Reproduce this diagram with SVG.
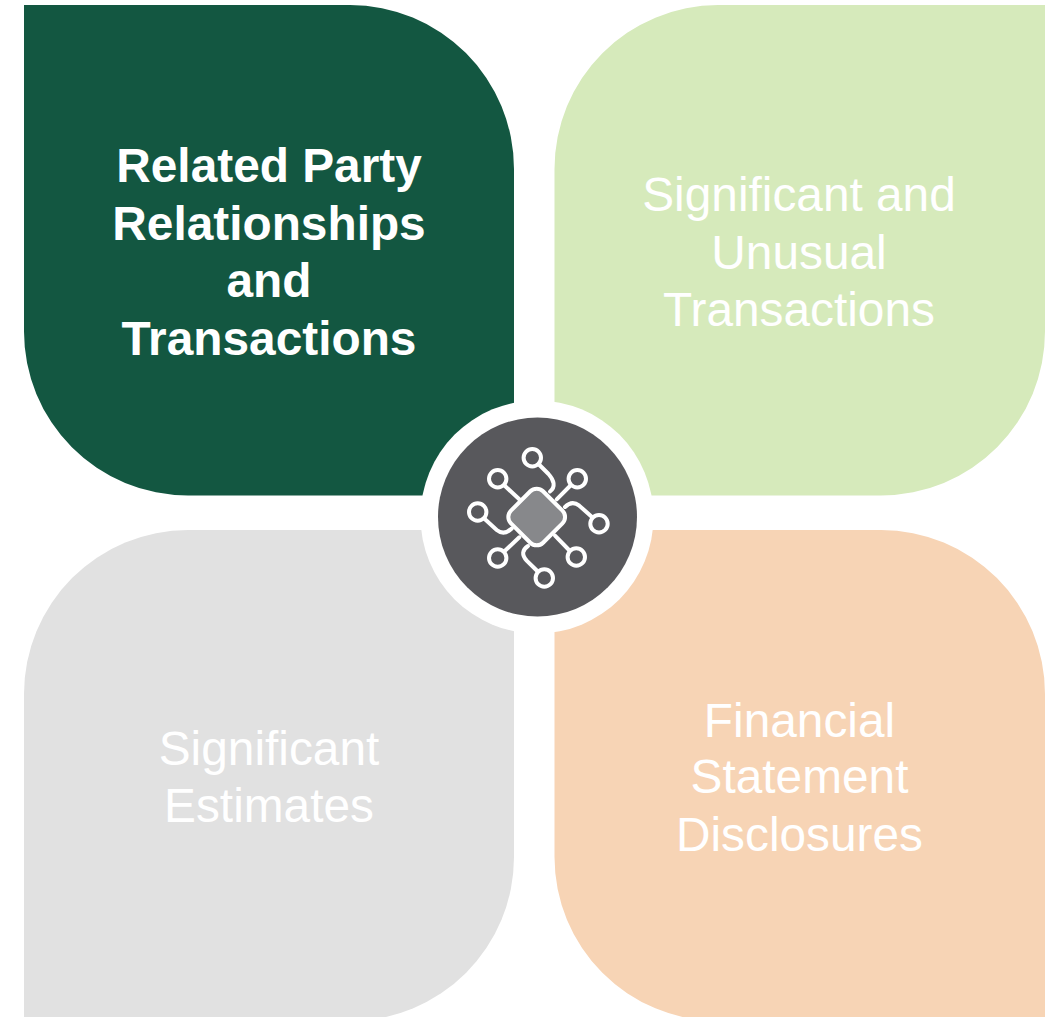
<svg xmlns="http://www.w3.org/2000/svg" width="1048" height="1017" viewBox="0 0 1048 1017">
<style>
text{font-family:"Liberation Sans",Arial,sans-serif;font-size:47.800px;fill:#fff;text-anchor:middle}
.b{font-weight:700}
.ic{fill:none;stroke:#fff;stroke-width:4;stroke-linecap:round}
</style>
<rect width="1048" height="1017" fill="#fff"/>
<g id="node-related">
<path d="M24 5H350A164 164 0 0 1 514 169V495.500H188A164 164 0 0 1 24 331Z" fill="#135741"/>
<text class="b" x="269" y="182">Related Party</text>
<text class="b" x="269" y="240">Relationships</text>
<text class="b" x="269" y="297">and</text>
<text class="b" x="269" y="355">Transactions</text>
</g>
<g id="node-unusual">
<path d="M718 5H1045V331A164 164 0 0 1 881 495.500H554.500V169A164 164 0 0 1 718 5Z" fill="#d6eabb"/>
<text x="799" y="210.500">Significant and</text>
<text x="799" y="268.500">Unusual</text>
<text x="799" y="326">Transactions</text>
</g>
<g id="node-estimates">
<path d="M188 530H514V857A164 164 0 0 1 350 1021H24V694A164 164 0 0 1 188 530Z" fill="#e1e1e1"/>
<text x="269" y="765">Significant</text>
<text x="269" y="822">Estimates</text>
</g>
<g id="node-disclosures">
<path d="M554.500 530H881A164 164 0 0 1 1045 694V1021H718A164 164 0 0 1 554.500 857Z" fill="#f7d4b5"/>
<text x="799.500" y="736.500">Financial</text>
<text x="799.500" y="793">Statement</text>
<text x="799.500" y="851">Disclosures</text>
</g>
<g id="node-hub">
<circle cx="537" cy="517" r="116.500" fill="#fff"/>
<circle cx="537.500" cy="517" r="99.500" fill="#58585c"/>
<rect x="514" y="494.300" width="45.400" height="45.400" rx="9" transform="rotate(45 536.700 517)" fill="#87888b" stroke="#fff" stroke-width="4"/>
<g class="ic">
<circle cx="532.300" cy="457.700" r="8.700"/>
<circle cx="497.700" cy="478.700" r="8.700"/>
<circle cx="577.300" cy="478.700" r="8.700"/>
<circle cx="599" cy="523.700" r="8.700"/>
<circle cx="477.700" cy="512" r="8.700"/>
<circle cx="497.700" cy="558" r="8.700"/>
<circle cx="576.300" cy="557" r="8.700"/>
<circle cx="544.300" cy="578" r="8.700"/>
<path d="M538.500 464L548.500 474C554 480 556 487 550 491.500"/>
<path d="M505 486L519.300 499.300"/>
<path d="M570 486L556.700 499.300"/>
<path d="M591.700 516.700L579.300 505.700Q572 500 565 507"/>
<path d="M485 519.300L496.700 530Q504 536 511.700 528.500"/>
<path d="M505 550.700L519.300 537.300"/>
<path d="M569 550L555 535.700"/>
<path d="M537 570.700L526.700 560.700Q519 552 528 546"/>
</g>
</g>
</svg>
